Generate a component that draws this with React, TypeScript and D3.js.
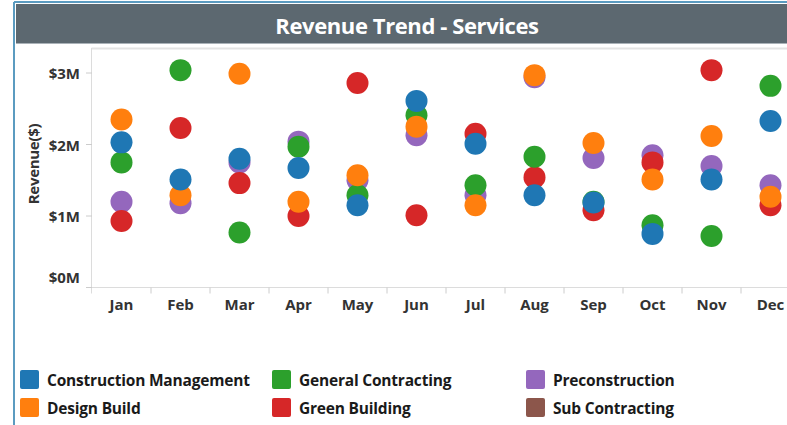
import * as d3 from 'd3';

const width = 787;
const height = 425;
const margin = { top: 48, left: 92, bottom: 287.5 };

const months = ['Jan', 'Feb', 'Mar', 'Apr', 'May', 'Jun', 'Jul', 'Aug', 'Sep', 'Oct', 'Nov', 'Dec'];
const yTicks = [0, 1, 2, 3];

// revenue in $M per month
const constructionManagement = [2.03, 1.51, 1.80, 1.67, 1.15, 2.61, 2.01, 1.29, 1.19, 0.75, 1.51, 2.33];
const designBuild = [2.35, 1.29, 2.99, 1.20, 1.57, 2.25, 1.15, 2.97, 2.02, 1.51, 2.12, 1.27];
const generalContracting = [1.75, 3.04, 0.77, 1.97, 1.29, 2.41, 1.43, 1.83, 1.20, 0.87, 0.72, 2.82];
const greenBuilding = [0.93, 2.23, 1.46, 1.00, 2.86, 1.01, 2.15, 1.54, 1.08, 1.75, 3.04, 1.15];
const preconstruction = [1.20, 1.18, 1.75, 2.04, 1.50, 2.13, 1.29, 2.94, 1.81, 1.85, 1.70, 1.43];
const subContracting: number[] = [];

const series = [
  { name: 'Construction Management', color: '#1f77b4', values: constructionManagement },
  { name: 'Design Build', color: '#ff7f0e', values: designBuild },
  { name: 'General Contracting', color: '#2ca02c', values: generalContracting },
  { name: 'Green Building', color: '#d62728', values: greenBuilding },
  { name: 'Preconstruction', color: '#9467bd', values: preconstruction },
  { name: 'Sub Contracting', color: '#8c564b', values: subContracting },
];

// draw order (bottom first)
const drawOrder = ['Sub Contracting', 'Preconstruction', 'Green Building', 'General Contracting', 'Design Build', 'Construction Management'];
// legend reads column by column
const legendOrder = ['Construction Management', 'General Contracting', 'Preconstruction', 'Design Build', 'Green Building', 'Sub Contracting'];

const font = "'Open Sans', 'DejaVu Sans', sans-serif";

export default function App() {
  const x = d3.scaleBand<string>().domain(months).range([margin.left, 800]).padding(0);
  const y = d3.scaleLinear().domain([0, 3]).range([margin.bottom, 73]);

  const byName = (n: string) => series.find(s => s.name === n)!;

  const legendCols = [20, 272, 526];
  const legendRows = [370, 398];

  return (
    <svg width={width} height={height} style={{ position: 'absolute', left: 0, top: 0, fontFamily: font }}>
      <rect x={0} y={0} width={width} height={height} fill="#fff" />
      {/* frame */}
      <line x1={14} x2={14} y1={2} y2={height} stroke="#5b9bc0" strokeWidth={2} />
      <line x1={14} x2={width} y1={2} y2={2} stroke="#5b9bc0" strokeWidth={2} />
      <rect x={16} y={4} width={width - 16} height={39} fill="#5c6870" />
      <line x1={16} x2={width} y1={43.5} y2={43.5} stroke="#aab2b8" />
      <text x={407} y={25} textAnchor="middle" dominantBaseline="central" fill="#fff"
        fontSize={22} fontWeight={700} style={{ letterSpacing: '-0.4px' }}>Revenue Trend - Services</text>

      {/* plot frame */}
      <line x1={margin.left - 0.5} x2={width} y1={margin.top + 0.5} y2={margin.top + 0.5} stroke="#e3e3e3" strokeWidth={2} />
      <line x1={margin.left - 0.5} x2={margin.left - 0.5} y1={margin.top} y2={margin.bottom + 6} stroke="#dcdcdc" />
      <line x1={margin.left} x2={width} y1={margin.bottom} y2={margin.bottom} stroke="#dcdcdc" />

      {/* y axis */}
      {yTicks.map(t => (
        <g key={t}>
          <line x1={margin.left - 6} x2={margin.left} y1={y(t)} y2={y(t)} stroke="#ccc" />
          <text x={80} y={t === 0 ? y(t) - 11 : y(t)} textAnchor="end" dominantBaseline="central"
            fontSize={15} fontWeight={700} fill="#333">{`$${t}M`}</text>
        </g>
      ))}
      <text transform={`translate(33, 164) rotate(-90)`} textAnchor="middle" dominantBaseline="central"
        fontSize={15} fontWeight={700} fill="#333" style={{ letterSpacing: '-0.3px' }}>Revenue($)</text>

      {/* x axis */}
      {months.map(m => (
        <g key={m}>
          <line x1={x(m)! + x.bandwidth()} x2={x(m)! + x.bandwidth()} y1={margin.bottom} y2={margin.bottom + 6} stroke="#ccc" />
          <text x={x(m)! + x.bandwidth() / 2} y={304} textAnchor="middle" dominantBaseline="central"
            fontSize={15} fontWeight={700} fill="#333">{m}</text>
        </g>
      ))}

      {/* points */}
      {drawOrder.map(byName).map(s => (
        <g key={s.name}>
          {s.values.map((v, i) => (
            <circle key={i} cx={x(months[i])! + x.bandwidth() / 2} cy={y(v)} r={11} fill={s.color} />
          ))}
        </g>
      ))}

      {/* legend */}
      {legendOrder.map(byName).map((s, i) => (
        <g key={s.name} transform={`translate(${legendCols[i % 3]}, ${legendRows[Math.floor(i / 3)]})`}>
          <rect x={0} y={0} width={19} height={19} rx={2} fill={s.color} />
          <text x={27} y={10} dominantBaseline="central" fontSize={15.5} fontWeight={700} fill="#1a1a1a"
            style={{ letterSpacing: '-0.2px' }}>{s.name}</text>
        </g>
      ))}
    </svg>
  );
}
